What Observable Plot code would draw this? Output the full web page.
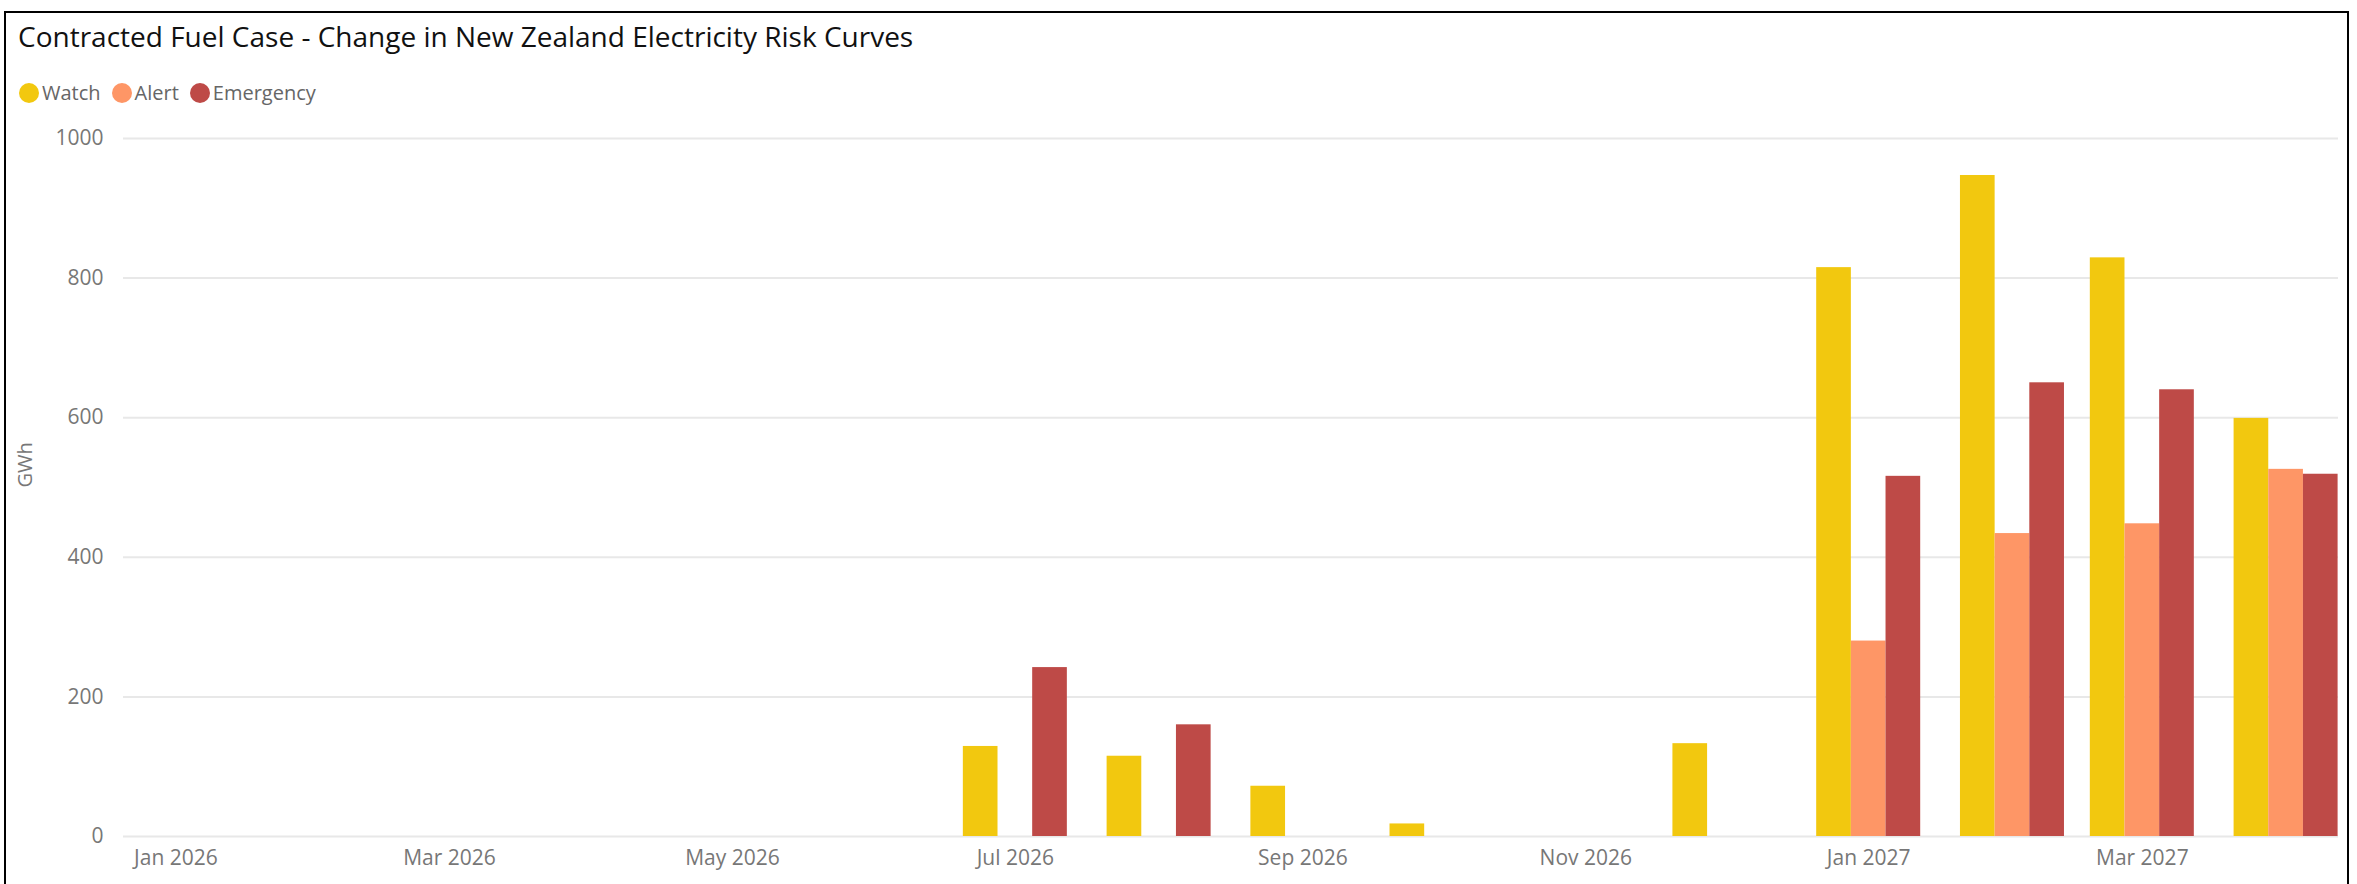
<!DOCTYPE html>
<html>
<head>
<meta charset="utf-8">
<script src="https://cdn.jsdelivr.net/npm/d3@7"></script>
<script src="https://cdn.jsdelivr.net/npm/@observablehq/plot@0.6"></script>
<style>
  body { margin: 0; background: #fff; font-family: "Segoe UI", "Open Sans", sans-serif; }
  #visual { position: relative; width: 2357px; height: 884px; overflow: hidden; }
  #frame { position: absolute; left: 4px; top: 11px; width: 2345px; height: 920px;
           border: 2px solid #000; box-sizing: border-box; pointer-events: none; }
  #header { position: relative; height: 110px; }
  #title { position: absolute; left: 18px; top: 22px; font-size: 28px; line-height: 28px;
           color: #111; white-space: nowrap; }
  #legend { position: absolute; left: 19px; top: 83px; display: flex; align-items: center;
            font-size: 20px; line-height: 20px; color: #666; white-space: nowrap; }
  .item { display: flex; align-items: center; margin-right: 11px; }
  .dot { width: 20px; height: 20px; border-radius: 50%; margin-right: 3px; }
  #chart svg { display: block; }
</style>
</head>
<body>
<div id="visual">
  <div id="header">
    <div id="title"></div>
    <div id="legend"></div>
  </div>
  <div id="chart"></div>
  <div id="frame"></div>
</div>
<script>
// Monthly change in risk-curve storage (GWh) by security-of-supply level
const titleText = "Contracted Fuel Case - Change in New Zealand Electricity Risk Curves";
const months = [
  "2026-01", "2026-02", "2026-03", "2026-04", "2026-05", "2026-06",
  "2026-07", "2026-08", "2026-09", "2026-10", "2026-11", "2026-12",
  "2027-01", "2027-02", "2027-03", "2027-04"
];
const watchGWh     = [0, 0, 0, 0, 0, 0, 129, 115, 72, 18, 0, 133, 815, 947, 829, 599];
const alertGWh     = [0, 0, 0, 0, 0, 0,   0,   0,  0,  0, 0,   0, 280, 434, 448, 526];
const emergencyGWh = [0, 0, 0, 0, 0, 0, 242, 160,  0,  0, 0,   0, 516, 650, 640, 519];
const seriesNames  = ["Watch", "Alert", "Emergency"];
const seriesColors = ["#F2C80F", "#FE9666", "#BE4A47"];
const xTickMonths  = ["2026-01", "2026-03", "2026-05", "2026-07", "2026-09", "2026-11", "2027-01", "2027-03"];
const yTicks       = [0, 200, 400, 600, 800, 1000];
const yLabel       = "GWh";

const parseMonth = d3.utcParse("%Y-%m");
const dates = months.map(parseMonth);
const seriesValues = [watchGWh, alertGWh, emergencyGWh];

// header: title and legend
document.getElementById("title").textContent = titleText;
const legend = d3.select("#legend");
seriesNames.forEach((name, k) => {
  const item = legend.append("div").attr("class", "item");
  item.append("div").attr("class", "dot").style("background", seriesColors[k]);
  item.append("span").text(name);
});

// clustered columns on a continuous time axis: three bars side by side per month
const barWidth = 34.67;
const dayMs = 864e5;
const pad = 11.3 * dayMs;
const xDomain = [new Date(+dates[0] - pad), new Date(+dates[dates.length - 1] + pad)];

const barMarks = seriesNames.map((name, k) => {
  const rows = dates.map((date, i) => ({date, value: seriesValues[k][i], series: name}));
  return Plot.rect(rows, {
    x1: "date",
    x2: "date",
    y1: 0,
    y2: "value",
    fill: seriesColors[k],
    insetLeft: (k - 1.5) * barWidth,
    insetRight: (0.5 - k) * barWidth
  });
});

const chart = Plot.plot({
  width: 2357,
  height: 774,
  marginLeft: 123,
  marginRight: 19,
  marginTop: 28,
  marginBottom: 48,
  style: {fontFamily: "'Segoe UI', 'Open Sans', sans-serif", color: "#777", background: "#fff"},
  x: {type: "utc", domain: xDomain},
  y: {domain: [0, 1000]},
  marks: [
    Plot.gridY(yTicks, {stroke: "#e8e8e8", strokeOpacity: 1, strokeWidth: 2}),
    ...barMarks,
    Plot.axisY({ticks: yTicks, tickFormat: d3.format("d"), tickSize: 0, tickPadding: 20, fontSize: 21, label: null}),
    Plot.axisX({
      ticks: xTickMonths.map(parseMonth),
      tickFormat: d3.utcFormat("%b %Y"),
      tickSize: 0,
      tickPadding: 14,
      fontSize: 21,
      label: null
    }),
    Plot.text([yLabel], {text: d => d, frameAnchor: "left", dx: -98, rotate: -90, fontSize: 20, fill: "#777"})
  ]
});
document.getElementById("chart").appendChild(chart);
</script>
</body>
</html>
